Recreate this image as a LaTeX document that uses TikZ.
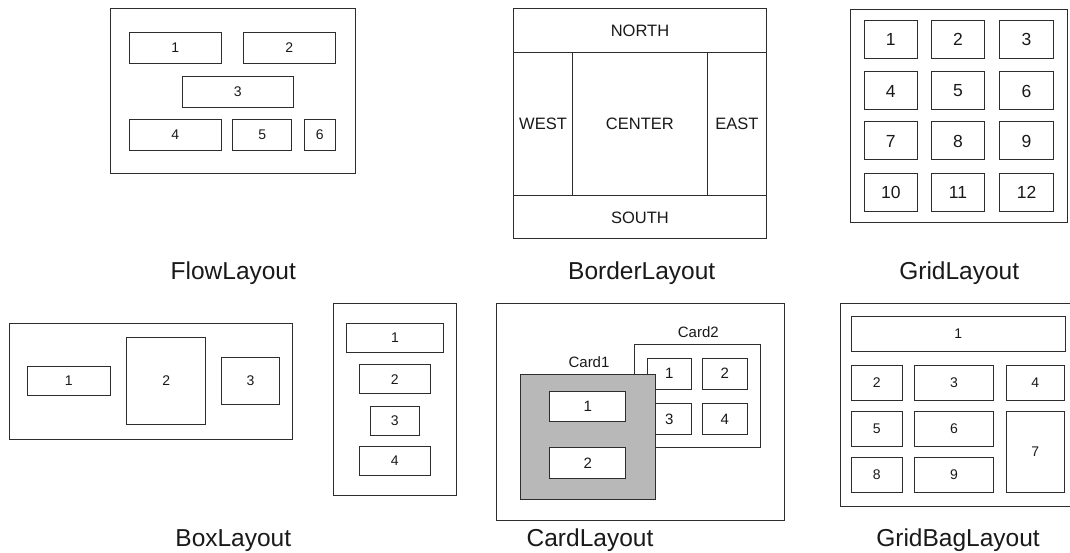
\documentclass[tikz,border=0pt]{standalone}
\usepackage{fontspec}
\setmainfont{Liberation Sans}
\definecolor{edge}{RGB}{45,45,45}
\definecolor{ink}{RGB}{25,25,25}
\definecolor{cardgray}{RGB}{184,184,184}
% a box given by its corners (x1,y1)-(x2,y2), with a centred label
\newcommand\cellnode[7][]{%
  \node[cellbox,#1,minimum width={(#4-#2)*1pt},minimum height={(#5-#3)*1pt}]
    (#2-#3-#7) at ({(#2+#4)/2},{(#3+#5)/2}) {#6};}
\newcommand\namedbox[7][]{%
  \node[cellbox,#1,minimum width={(#5-#3)*1pt},minimum height={(#6-#4)*1pt}]
    (#2) at ({(#3+#5)/2},{(#4+#6)/2}) {#7};}
\tikzset{
  cellbox/.style={draw=edge,line width=1pt,text=ink,inner sep=0pt,outer sep=0pt,
    font=\fontsize{14}{14}\selectfont},
  title/.style={text=ink,anchor=base,inner sep=0pt,font=\fontsize{24.5}{24.5}\selectfont},
  cardlabel/.style={text=ink,inner sep=0pt,font=\fontsize{15}{15}\selectfont},
}
\begin{document}
\begin{tikzpicture}[x=1pt,y=-1pt]
\useasboundingbox (0,0) rectangle (1070,553);

% ---------- FlowLayout ----------
\namedbox{flow}{110.7}{9}{355}{174}{}
\namedbox{f1}{129.3}{32.7}{221.3}{63.3}{1}
\namedbox{f2}{243.3}{32.7}{335.3}{63.3}{2}
\namedbox{f3}{182.3}{76.3}{293.3}{107.3}{3}
\namedbox{f4}{129.3}{119.3}{221.3}{150.3}{4}
\namedbox{f5}{232.7}{119.3}{291.7}{150.3}{5}
\namedbox{f6}{304.3}{119.3}{335.3}{150.3}{6}
\node[title] (tflow) at (233.3,279.3) {FlowLayout};

% ---------- BorderLayout ----------
\begin{scope}[cellbox/.append style={font=\fontsize{16.5}{16.5}\selectfont}]
\namedbox{bnorth}{513.3}{9}{766.7}{52.7}{NORTH}
\namedbox{bwest}{513.3}{52.7}{572.7}{195.7}{WEST}
\namedbox{bcenter}{572.7}{52.7}{707}{195.7}{CENTER}
\namedbox{beast}{707}{52.7}{766.7}{195.7}{EAST}
\namedbox{bsouth}{513.3}{195.7}{766.7}{239}{SOUTH}
\end{scope}
\node[title] (tborder) at (641.7,279.3) {BorderLayout};

% ---------- GridLayout ----------
\namedbox{grid}{850}{9.3}{1067.3}{222.7}{}
\begin{scope}[cellbox/.append style={font=\fontsize{17.5}{17.5}\selectfont}]
\namedbox{g1}{864}{20.7}{917.7}{58.7}{1}
\namedbox{g2}{931.3}{20.7}{984.7}{58.7}{2}
\namedbox{g3}{999.7}{20.7}{1053.3}{58.7}{3}
\namedbox{g4}{864}{72}{917.7}{110}{4}
\namedbox{g5}{931.3}{72}{984.7}{110}{5}
\namedbox{g6}{999.7}{72}{1053.3}{110}{6}
\namedbox{g7}{864}{122}{917.7}{160}{7}
\namedbox{g8}{931.3}{122}{984.7}{160}{8}
\namedbox{g9}{999.7}{122}{1053.3}{160}{9}
\namedbox{g10}{864}{173.3}{917.7}{211.3}{10}
\namedbox{g11}{931.3}{173.3}{984.7}{211.3}{11}
\namedbox{g12}{999.7}{173.3}{1053.3}{211.3}{12}
\end{scope}
\node[title] (tgrid) at (959.2,279.3) {GridLayout};

% ---------- BoxLayout (horizontal and vertical) ----------
\namedbox{hbox}{9}{323.3}{292.7}{439}{}
\namedbox{h1}{27}{366.3}{110.7}{395.3}{1}
\namedbox{h2}{126.7}{337.3}{205.7}{424}{2}
\namedbox{h3}{221.7}{357.7}{279.3}{404}{3}
\namedbox{vbox}{333.3}{303.3}{456}{495}{}
\namedbox{v1}{346.7}{323.3}{443.3}{352}{1}
\namedbox{v2}{359.3}{364.7}{430.3}{393.7}{2}
\namedbox{v3}{370.3}{406}{419.3}{435}{3}
\namedbox{v4}{359.3}{446.3}{430.3}{475}{4}
\node[title] (tbox) at (233.3,546.7) {BoxLayout};

% ---------- CardLayout ----------
\namedbox{cards}{496}{303.3}{784.3}{520.7}{}
\namedbox[fill=white]{card2}{634.3}{344.3}{760}{447.7}{}
\node[cardlabel] (lcard2) at (698.3,332.3) {Card2};
\begin{scope}[cellbox/.append style={fill=white,font=\fontsize{15}{15}\selectfont}]
\namedbox{c21}{647.3}{358}{691.3}{389}{1}
\namedbox{c22}{702.7}{358}{747}{389}{2}
\namedbox{c23}{647.3}{403.7}{691.3}{434.3}{3}
\namedbox{c24}{702.7}{403.7}{747}{434.3}{4}
\namedbox[fill=cardgray]{card1}{520.3}{374.7}{655.3}{499.3}{}
\namedbox{c11}{549.7}{391}{625.7}{421.7}{1}
\namedbox{c12}{549.7}{447.3}{625.7}{478.3}{2}
\end{scope}
\node[cardlabel] (lcard1) at (589,362.3) {Card1};
\node[title] (tcard) at (590,546.7) {CardLayout};

% ---------- GridBagLayout (frame runs off to the right) ----------
\coordinate (gbtr) at (1072,303.3);
\coordinate (gbtl) at (840.7,303.3);
\coordinate (gbbl) at (840.7,506);
\coordinate (gbbr) at (1072,506);
\draw[draw=edge,line width=1pt] (gbtr) -- (gbtl) -- (gbbl) -- (gbbr);
\namedbox{gb1}{851.3}{316.7}{1065}{351.3}{1}
\namedbox{gb2}{851.3}{365}{902.3}{400}{2}
\namedbox{gb3}{914.3}{365}{993.7}{400}{3}
\namedbox{gb4}{1006.3}{365}{1064.3}{400}{4}
\namedbox{gb5}{851.3}{411}{902.3}{446}{5}
\namedbox{gb6}{914.3}{411}{993.7}{446}{6}
\namedbox{gb7}{1006.3}{411}{1064.3}{492.3}{7}
\namedbox{gb8}{851.3}{457}{902.3}{492.3}{8}
\namedbox{gb9}{914.3}{457}{993.7}{492.3}{9}
\node[title] (tgridbag) at (958,546.7) {GridBagLayout};
\end{tikzpicture}
\end{document}
